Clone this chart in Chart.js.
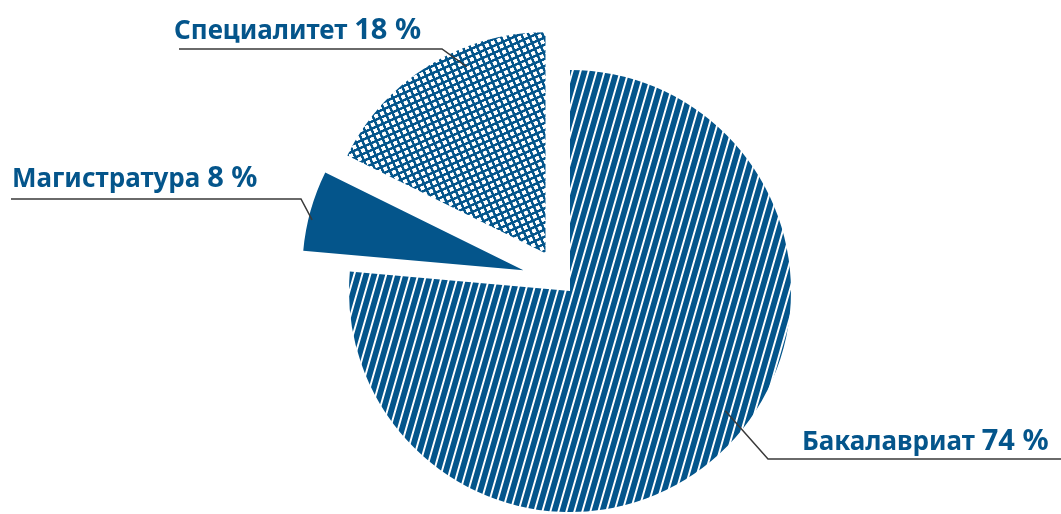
<!DOCTYPE html>
<html lang="ru">
<head>
<meta charset="utf-8">
<title>Уровни образования</title>
<script src="https://cdn.jsdelivr.net/npm/chart.js@4.4.0/dist/chart.umd.min.js"></script>
<style>
    html, body { margin: 0; padding: 0; background: #fff; }
    canvas { display: block; }
</style>
</head>
<body>
<canvas id="pie-levels" width="1061" height="514"></canvas>
<script>
(function () {
    "use strict";

    // Data
    var categories = ["Бакалавриат", "Магистратура", "Специалитет"];
    var percentLabels = [74, 8, 18];        // numbers printed in the labels
    var sliceShares = [76.4, 5.9, 17.7];    // slice sizes as they are drawn in the picture

    var BLUE = "#04558b";
    var canvas = document.getElementById("pie-levels");
    var ctx = canvas.getContext("2d");

    // Fill patterns
    var stripes = function () {
        var tile = document.createElement("canvas");
        tile.width = 8; tile.height = 8;
        var g = tile.getContext("2d");
        g.fillStyle = BLUE; g.fillRect(0, 0, 8, 8);
        g.fillStyle = "#fff"; g.fillRect(0, 0, 2, 8);
        var p = ctx.createPattern(tile, "repeat");
        p.setTransform(new DOMMatrix().skewX(-16));
        return p;
    };
    var crosshatch = function () {
        var tile = document.createElement("canvas");
        tile.width = 13; tile.height = 13;
        var g = tile.getContext("2d");
        g.fillStyle = "#fff"; g.fillRect(0, 0, 13, 13);
        g.fillStyle = BLUE; g.fillRect(0, 0, 13, 5); g.fillRect(0, 0, 5, 13);
        var p = ctx.createPattern(tile, "repeat");
        p.setTransform(new DOMMatrix().rotate(-24).scale(0.5));
        return p;
    };

    // Exploded slices: shift in px and direction in degrees (0 = right, clockwise)
    var explode = [null, { dist: 51, deg: 204 }, { dist: 45, deg: 237 }];
    var shiftOf = function (i) {
        var e = explode[i];
        if (!e) return { x: 0, y: 0 };
        var rad = e.deg * Math.PI / 180;
        return { x: Math.cos(rad) * e.dist, y: Math.sin(rad) * e.dist };
    };

    var explodeSlices = {
        id: "explodeSlices",
        afterDatasetUpdate: function (chart, args) {
            chart.getDatasetMeta(args.index).data.forEach(function (arc, i) {
                if (!explode[i] || arc.hasOwnProperty("draw")) return;
                var baseDraw = arc.draw;
                arc.draw = function (c, area) {
                    var s = shiftOf(i);
                    c.save();
                    c.translate(s.x, s.y);
                    baseDraw.call(this, c, area);
                    c.restore();
                };
            });
        }
    };

    // Label placement: anchor inside the slice (t along the angle, r of radius), elbow, line end, text
    var labelLayout = [
        { t: 0.464, r: 0.887, elbow: [768, 459], lineTo: 1061, textX: 802, baseline: 450 },
        { t: 0.394, r: 0.983, elbow: [301, 199], lineTo: 11,   textX: 12,  baseline: 187 },
        { t: 0.641, r: 0.915, elbow: [442, 49],  lineTo: 179,  textX: 174, baseline: 39 }
    ];

    var leaderLabels = {
        id: "leaderLabels",
        afterDatasetsDraw: function (chart) {
            var c = chart.ctx;
            var arcs = chart.getDatasetMeta(0).data;
            arcs.forEach(function (arc, i) {
                var p = arc.getProps(["x", "y", "startAngle", "endAngle", "outerRadius"], true);
                var lay = labelLayout[i];
                var s = shiftOf(i);
                var a = p.startAngle + lay.t * (p.endAngle - p.startAngle);
                var ax = p.x + s.x + Math.cos(a) * p.outerRadius * lay.r;
                var ay = p.y + s.y + Math.sin(a) * p.outerRadius * lay.r;

                c.save();
                c.strokeStyle = "#3a3a3a";
                c.lineWidth = 1.5;
                c.beginPath();
                c.moveTo(ax, ay);
                c.lineTo(lay.elbow[0], lay.elbow[1]);
                c.lineTo(lay.lineTo, lay.elbow[1]);
                c.stroke();

                c.fillStyle = BLUE;
                c.textBaseline = "alphabetic";
                c.font = "bold 26px 'Noto Sans'";
                c.fillText(categories[i], lay.textX, lay.baseline);
                var w = c.measureText(categories[i] + " ").width;
                c.font = "bold 29px 'Noto Sans'";
                c.fillText(percentLabels[i] + " %", lay.textX + w, lay.baseline);
                c.restore();
            });
        }
    };

    // Pie Chart
    var levelsChart = new Chart(ctx, {
        type: "pie",
        data: {
            labels: categories,
            datasets: [{
                data: sliceShares,
                backgroundColor: [stripes(), BLUE, crosshatch()],
                borderWidth: 0,
                radius: 221
            }]
        },
        options: {
            responsive: false,
            animation: false,
            layout: { padding: { left: 79, top: 68, right: 0, bottom: 0 } },
            plugins: {
                legend: { display: false },
                tooltip: { enabled: false }
            }
        },
        plugins: [explodeSlices, leaderLabels]
    });

})();
</script>
</body>
</html>
